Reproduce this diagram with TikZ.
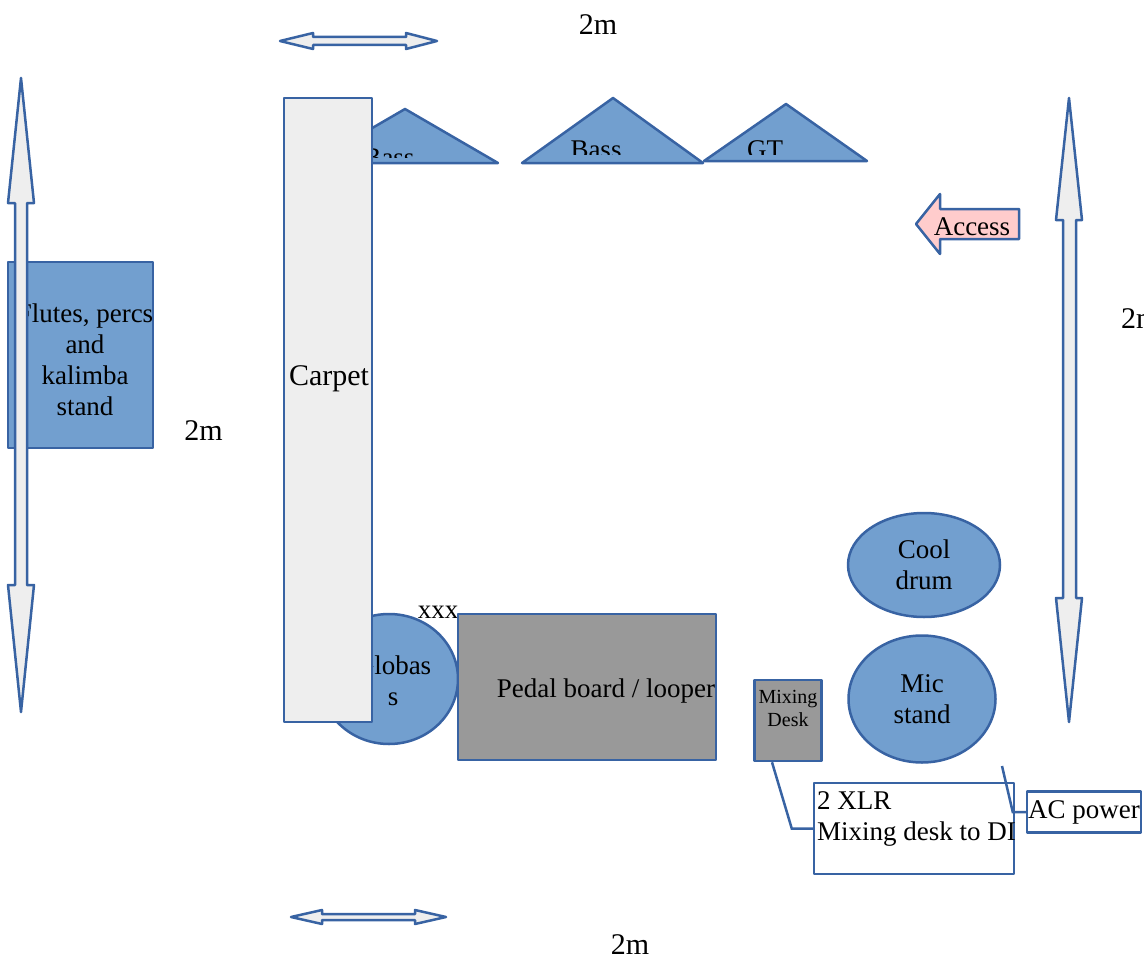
\documentclass[tikz,border=0pt]{standalone}
\usepackage{fontspec}
\setmainfont{Liberation Serif}
\usetikzlibrary{shapes.geometric}
\definecolor{bordc}{RGB}{56,99,163}
\definecolor{fillc}{RGB}{114,159,207}
\definecolor{grayc}{RGB}{153,153,153}
\definecolor{carpetc}{RGB}{238,238,238}
\definecolor{pinkc}{RGB}{255,204,204}
\tikzset{
  shp/.style={draw=bordc, line width=2.5pt, line join=round},
  bluebox/.style={shp, fill=fillc, inner sep=0pt},
  graybox/.style={shp, fill=grayc, inner sep=0pt},
  whitebox/.style={shp, fill=white, inner sep=1pt},
  blueell/.style={shp, fill=fillc, ellipse, inner sep=0pt, align=center},
  arrowshape/.style={shp, fill=carpetc},
  conn/.style={draw=bordc, line width=2.5pt},
  txt/.style={inner sep=0pt, align=center},
  big/.style={font=\fontsize{30}{34}\selectfont},
  small/.style={font=\fontsize{20}{23}\selectfont},
}
\begin{document}
\begin{tikzpicture}[x=1pt,y=-1pt, font=\fontsize{27}{31}\selectfont]
\useasboundingbox (0,0) rectangle (1144,966);

% flutes stand
\node[bluebox, minimum width=145, minimum height=186] (flutes) at (80.5,355) {};
\node[txt] (flutestxt) at (85,360) {Flutes, percs\\and\\kalimba\\stand};

% left vertical double arrow
\draw[arrowshape] (21,78) -- (34,203) -- (27,203) -- (27,585) -- (34,585) -- (21,712)
  -- (8,585) -- (15,585) -- (15,203) -- (8,203) -- cycle;
% right vertical double arrow
\draw[arrowshape] (1069,98) -- (1082,220) -- (1076,220) -- (1076,598) -- (1082,598) -- (1069,722)
  -- (1056,598) -- (1063,598) -- (1063,220) -- (1056,220) -- cycle;
% top horizontal double arrow
\draw[arrowshape] (280,41) -- (313,33) -- (313,37) -- (406,37) -- (406,33) -- (437,41)
  -- (406,49) -- (406,45) -- (313,45) -- (313,49) -- cycle;
% bottom horizontal double arrow
\draw[arrowshape] (291,917) -- (322,910) -- (322,914) -- (415,914) -- (415,910) -- (446,917)
  -- (415,924) -- (415,920) -- (322,920) -- (322,924) -- cycle;

% dimension labels
\node[txt, big] (dimtop) at (598,25) {2m};
\node[txt, big] (dimleft) at (203.5,431) {2m};
\node[txt, big] (dimbot) at (630,945) {2m};
\node[txt, big, anchor=west] (dimright) at (1121,319) {2m};

% triangles (amps)
\draw[shp, fill=fillc] (312,163) -- (405,109) -- (498,163) -- cycle;
\begin{scope}
  \clip (300,100) rectangle (900,157);
  \node[txt, anchor=base] (bass1) at (389,166) {Bass};
\end{scope}
\draw[shp, fill=fillc] (522,163) -- (613,98) -- (703,163) -- cycle;
\draw[shp, fill=fillc] (704,161) -- (786,104) -- (867,161) -- cycle;
\begin{scope}
  \clip (300,100) rectangle (900,154);
  \node[txt, anchor=base] (bass2) at (596,158) {Bass};
  \node[txt, anchor=base] (gt) at (765,158) {GT};
\end{scope}

% globass
\node[blueell, minimum width=138, minimum height=130] (glob) at (389,679) {};
\node[txt] (globtxt) at (393,681) {Globas\\s};

% carpet
\node[shp, fill=carpetc, minimum width=88, minimum height=624, inner sep=0pt] (carpet) at (328,410) {};
\node[txt, font=\fontsize{30}{34}\selectfont] (carpettxt) at (329,379) {Carpet};

% xxx
\node[txt] (xxx) at (438,612) {xxx};

% pedal board
\node[graybox, minimum width=258, minimum height=146] (pedal) at (587,687) {};
\node[txt] (pedaltxt) at (606,691) {Pedal board / looper};

% access arrow
\draw[shp, fill=pinkc] (916,224) -- (940,194) -- (940,209) -- (1019,209) -- (1019,239)
  -- (940,239) -- (940,254) -- cycle;
\node[txt] (access) at (972,227) {Access};

% cool drum and mic stand
\node[blueell, minimum width=152, minimum height=104] (cool) at (924,565) {Cool\\drum};
\node[blueell, minimum width=147, minimum height=127] (mic) at (922,699) {Mic\\stand};

% mixing desk
\node[graybox, minimum width=67, minimum height=81] (mix) at (788,720.5) {};
\node[txt, small] (mixtxt) at (788,708) {Mixing\\Desk};

% XLR box
\node[whitebox, minimum width=200, minimum height=91] (xlr) at (914,828.5) {};
\node[txt, anchor=north west, align=left] (xlrtxt) at (817,791) {2 XLR\\Mixing desk to DI};

% AC power
\node[whitebox, minimum width=114, minimum height=41] (ac) at (1084,812) {AC power};

% connectors
\draw[conn] ([xshift=-16]mix.south) -- ([xshift=-21]xlr.west) -- (xlr.west);
\coordinate (acend) at (1002,766);
\draw[conn] (acend) -- ([xshift=-13]ac.west) -- (ac.west);
\end{tikzpicture}
\end{document}
